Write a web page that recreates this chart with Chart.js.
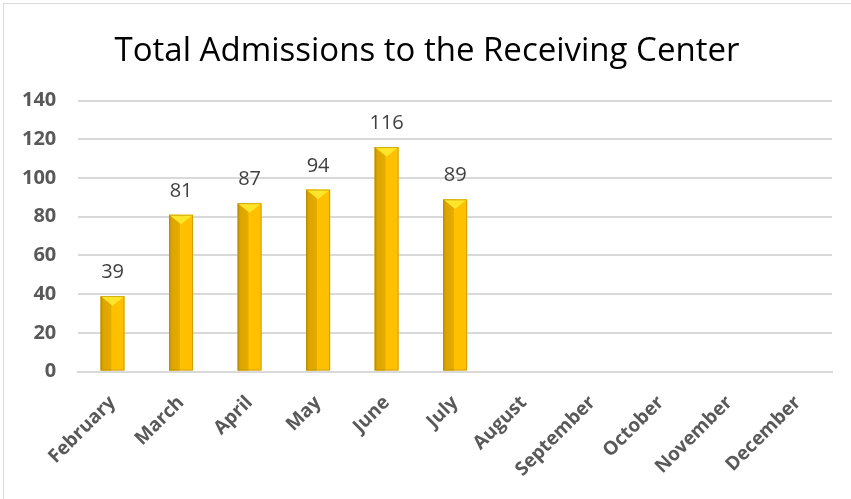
<!DOCTYPE html>
<html>
<head>
<meta charset="utf-8">
<script src="https://cdn.jsdelivr.net/npm/chart.js@4.4.0/dist/chart.umd.min.js"></script>
<style>
    html, body { margin: 0; padding: 0; background: #ffffff; overflow: hidden; }
    #frame {
        position: absolute; left: 3px; top: 3px; width: 900px; height: 600px;
        border-left: 1.5px solid #d9d9d9; border-top: 1.5px solid #d9d9d9;
    }
    #canvas-div { position: absolute; left: 0; top: 0; width: 851px; height: 499px; }
</style>
</head>
<body>
<div id="frame"></div>
<div id="canvas-div"><canvas id="canvas" width="851" height="499"></canvas></div>
<script>
var months = ["February", "March", "April", "May", "June", "July", "August", "September", "October", "November", "December"]
var admissions = [39, 81, 87, 94, 116, 89, null, null, null, null, null]
var yTicks = [0, 20, 40, 60, 80, 100, 120, 140]

var chartTitle = "Total Admissions to the Receiving Center"

// bevelled bar faces: darker left side, lighter cap at the top
const bevel = {
    id: 'bevel',
    afterDatasetsDraw: (chart) => {
        const { ctx } = chart
        const meta = chart.getDatasetMeta(0)
        ctx.save()
        meta.data.forEach((bar, i) => {
            if (admissions[i] == null) return
            const left = bar.x - bar.width / 2
            const right = bar.x + bar.width / 2
            const top = bar.y
            const base = bar.base
            const w = bar.width
            const cap = Math.min(w * 0.4, base - top)

            // left dark face
            var g = ctx.createLinearGradient(left, 0, bar.x, 0)
            g.addColorStop(0, '#c99400')
            g.addColorStop(0.25, '#dca500')
            g.addColorStop(1, '#e6ae00')
            ctx.fillStyle = g
            ctx.fillRect(left, top, w * 0.45, base - top)

            // top cap
            ctx.beginPath()
            ctx.moveTo(left, top)
            ctx.lineTo(right, top)
            ctx.lineTo(bar.x, top + cap)
            ctx.closePath()
            ctx.fillStyle = '#ffe52a'
            ctx.fill()

            // outline
            ctx.strokeStyle = 'rgba(170,130,0,0.55)'
            ctx.lineWidth = 1
            ctx.strokeRect(left + 0.5, top + 0.5, w - 1, base - top - 1)
        })
        ctx.restore()
    }
}

// value above each bar
const valueLabels = {
    id: 'valueLabels',
    afterDatasetsDraw: (chart) => {
        const { ctx } = chart
        const meta = chart.getDatasetMeta(0)
        ctx.save()
        ctx.font = '20px "Open Sans"'
        ctx.fillStyle = '#404040'
        ctx.textAlign = 'center'
        ctx.textBaseline = 'alphabetic'
        meta.data.forEach((bar, i) => {
            if (admissions[i] == null) return
            ctx.fillText(String(admissions[i]), bar.x, bar.y - 18)
        })
        ctx.restore()
    }
}

var canvas = document.getElementById("canvas")

var chart = new Chart(canvas, {
    type: 'bar',
    data: {
        labels: months,
        datasets: [
            {
                label: chartTitle,
                data: admissions,
                backgroundColor: '#ffc000',
                borderWidth: 0,
                barPercentage: 0.35,
                categoryPercentage: 1.0
            }
        ]
    },
    options: {
        responsive: false,
        animation: false,
        layout: {
            padding: { left: 22, right: 19, top: 0, bottom: 18 }
        },
        plugins: {
            legend: { display: false },
            tooltip: { enabled: false },
            title: {
                display: true,
                text: chartTitle,
                color: '#000000',
                font: { family: '"Open Sans"', size: 33, weight: 'normal' },
                padding: { top: 32, bottom: 29 }
            }
        },
        scales: {
            x: {
                grid: { display: false, drawTicks: false },
                border: { color: '#d9d9d9', width: 2 },
                ticks: {
                    color: '#595959',
                    font: { family: '"Open Sans"', size: 19, weight: 'bold' },
                    minRotation: 45,
                    maxRotation: 45,
                    padding: 20,
                    autoSkip: false
                },
                // padding is counted twice by fit(); rotated labels may run into the left margin
                afterFit: (axis) => {
                    axis.height -= axis.options.ticks.padding
                    axis.paddingLeft = 0
                    axis.paddingRight = 0
                }
            },
            y: {
                min: 0,
                max: 140,
                afterBuildTicks: (axis) => {
                    axis.ticks = yTicks.map(v => ({ value: v }))
                },
                afterFit: (axis) => {
                    axis.width -= axis.options.ticks.padding
                },
                grid: { color: '#d9d9d9', lineWidth: 2, drawTicks: false },
                border: { display: false },
                ticks: {
                    color: '#595959',
                    font: { family: '"Open Sans"', size: 20, weight: 'bold' },
                    padding: 22
                }
            }
        }
    },
    plugins: [bevel, valueLabels]
})
</script>
</body>
</html>
